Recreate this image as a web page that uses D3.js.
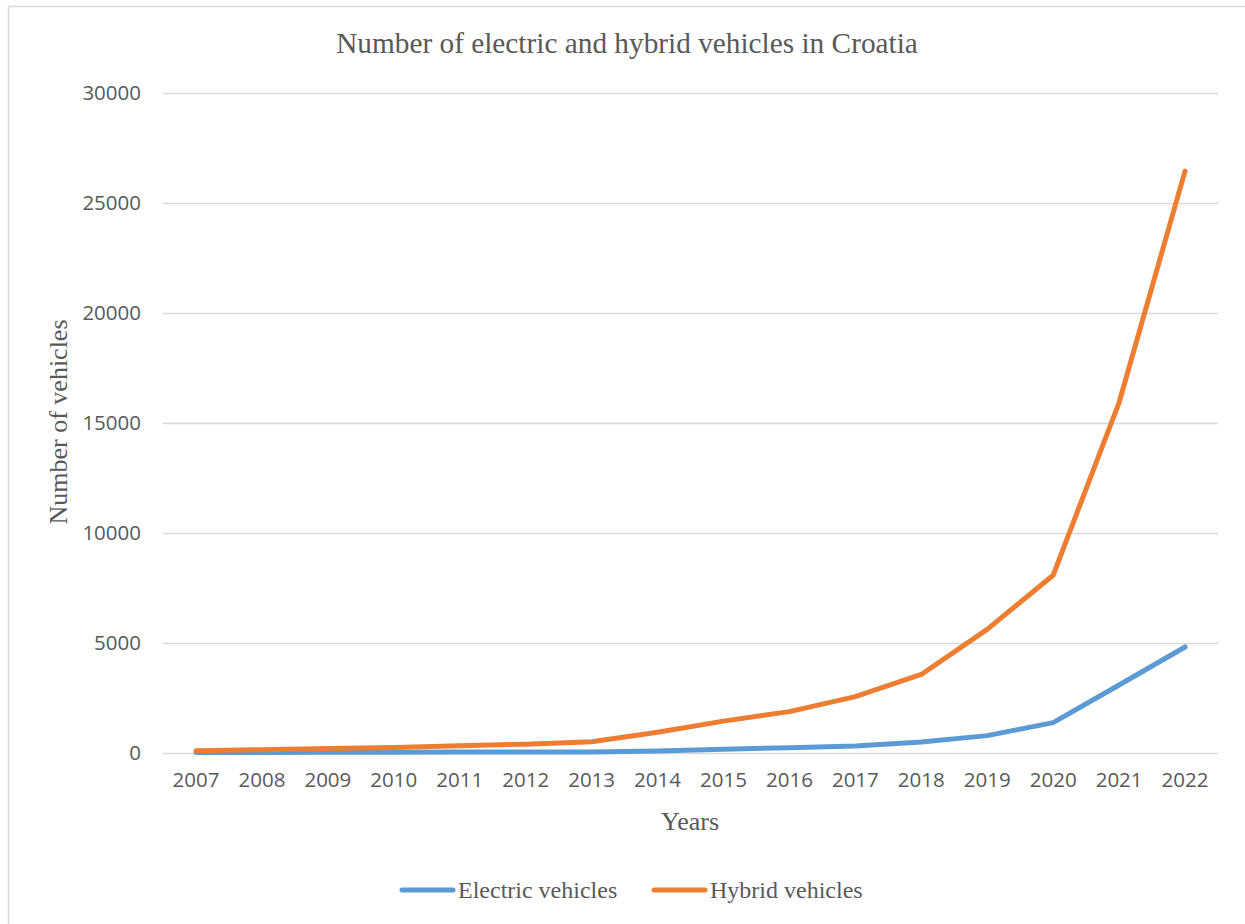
<!DOCTYPE html>
<html>
<head>
<meta charset="utf-8">
<script src="https://cdn.jsdelivr.net/npm/d3@7"></script>
<style>
	body { margin: 0; background: #fff; }
	#chart { width: 1245px; height: 924px; }
</style>
</head>
<body>
<div id="chart"></div>
<script>
	// Data
	const years = ["2007", "2008", "2009", "2010", "2011", "2012", "2013", "2014",
		"2015", "2016", "2017", "2018", "2019", "2020", "2021", "2022"]
	const electric = [20, 25, 30, 35, 40, 45, 50, 90, 170, 240, 320, 500, 790, 1380, 3090, 4820]
	const hybrid = [100, 150, 200, 250, 330, 400, 510, 940, 1450, 1880, 2560, 3570, 5620, 8080, 15930, 26450]
	const yTicks = [0, 5000, 10000, 15000, 20000, 25000, 30000]

	const series = [
		{ label: "Electric vehicles", color: "#5B9BD5", values: electric },
		{ label: "Hybrid vehicles", color: "#ED7D31", values: hybrid },
	]

	const width = 1245
	const height = 924
	const margin = { top: 93, right: 27, bottom: 171, left: 163 }

	const svg = d3
		.select("#chart")
		.append("svg")
		.attr("width", width)
		.attr("height", height)

	// Chart border
	svg.append("rect")
		.attr("x", 8.5)
		.attr("y", 6.5)
		.attr("width", 1300)
		.attr("height", 1000)
		.attr("fill", "#fff")
		.attr("stroke", "#d9d9d9")
		.attr("stroke-width", 1.5)

	const x = d3
		.scaleBand()
		.domain(years)
		.range([margin.left, width - margin.right])

	const y = d3
		.scaleLinear()
		.domain([0, 30000])
		.range([height - margin.bottom, margin.top])

	// Gridlines
	svg.append("g")
		.attr("class", "grid")
		.attr("transform", `translate(${margin.left},0)`)
		.call(
			d3.axisLeft(y)
				.tickValues(yTicks)
				.tickSize(-(width - margin.left - margin.right))
				.tickFormat("")
		)
		.call((g) => g.select(".domain").remove())
		.selectAll("line")
		.attr("stroke", "#d9d9d9")
		.attr("stroke-width", 1.5)

	// Y axis labels
	svg.append("g")
		.attr("class", "y-axis")
		.attr("transform", `translate(${margin.left},0)`)
		.call(d3.axisLeft(y).tickValues(yTicks).tickFormat(d3.format("d")).tickSize(0).tickPadding(22))
		.call((g) => g.select(".domain").remove())
		.selectAll("text")
		.style("font-family", "'Open Sans', sans-serif")
		.style("font-size", "20.5px")
		.attr("fill", "#595959")

	// X axis labels
	svg.append("g")
		.attr("class", "x-axis")
		.attr("transform", `translate(0,${height - margin.bottom})`)
		.call(d3.axisBottom(x).tickSize(0).tickPadding(19))
		.call((g) => g.select(".domain").remove())
		.selectAll("text")
		.style("font-family", "'Open Sans', sans-serif")
		.style("font-size", "20.5px")
		.attr("fill", "#595959")

	// Lines
	const line = d3
		.line()
		.x((d, i) => x(years[i]) + x.bandwidth() / 2)
		.y((d) => y(d))

	series.forEach((s) => {
		svg.append("path")
			.datum(s.values)
			.attr("fill", "none")
			.attr("stroke", s.color)
			.attr("stroke-width", 5)
			.attr("stroke-linejoin", "round")
			.attr("stroke-linecap", "round")
			.attr("d", line)
	})

	const serif = "'Liberation Serif', 'Times New Roman', serif"

	// Title
	svg.append("text")
		.attr("x", 627)
		.attr("y", 53)
		.attr("text-anchor", "middle")
		.style("font-family", serif)
		.style("font-size", "29.3px")
		.attr("fill", "#595959")
		.text("Number of electric and hybrid vehicles in Croatia")

	// Axis titles
	svg.append("text")
		.attr("x", 690)
		.attr("y", 830)
		.attr("text-anchor", "middle")
		.style("font-family", serif)
		.style("font-size", "26px")
		.attr("fill", "#595959")
		.text("Years")

	svg.append("text")
		.attr("transform", "translate(67,422) rotate(-90)")
		.attr("text-anchor", "middle")
		.style("font-family", serif)
		.style("font-size", "26px")
		.attr("fill", "#595959")
		.text("Number of vehicles")

	// Legend
	const legendX = [400, 652]
	series.forEach((s, i) => {
		const row = svg.append("g")
			.attr("transform", `translate(${legendX[i]},890)`)
		row.append("line")
			.attr("x1", 2)
			.attr("x2", 53)
			.attr("stroke", s.color)
			.attr("stroke-width", 5)
			.attr("stroke-linecap", "round")
		row.append("text")
			.attr("x", 58)
			.attr("y", 7.5)
			.style("font-family", serif)
			.style("font-size", "24px")
			.attr("fill", "#595959")
			.text(s.label)
	})
</script>
</body>
</html>
